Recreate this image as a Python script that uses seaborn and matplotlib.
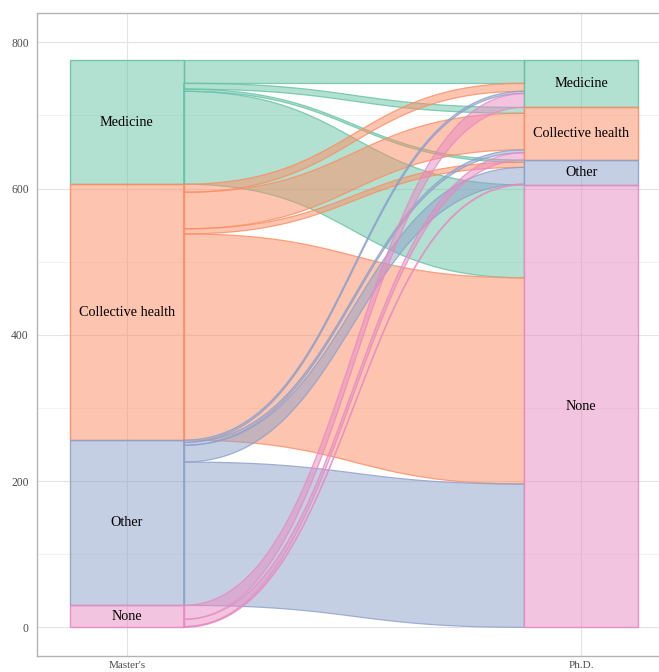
import numpy as np
import pandas as pd
import matplotlib
matplotlib.use("Agg")
import matplotlib.pyplot as plt
from matplotlib.ticker import MultipleLocator
import seaborn as sns

# ---------------- data ----------------
strata = ["Medicine", "Collective health", "Other", "None"]   # top -> bottom
axis_labels = ["Master's", "Ph.D."]
flow_from = ["Medicine"] * 4 + ["Collective health"] * 4 + ["Other"] * 4 + ["None"] * 4
flow_to = ["Medicine", "Collective health", "Other", "None"] * 4
flow_n = [32, 8, 3, 127,
          11, 50, 7, 282,
          3, 4, 23, 196,
          19, 10, 1, 0]
y_ticks = [0, 200, 400, 600, 800]

flows = pd.DataFrame({"src": flow_from, "dst": flow_to, "n": flow_n})

# ---------------- style ----------------
sns.set_theme(style="whitegrid")
plt.rcParams["font.family"] = ["Liberation Serif", "DejaVu Serif"]
pal = dict(zip(strata, sns.color_palette("Set2", 4)))

W, H, DPI = 659, 672, 100
fig = plt.figure(figsize=(W / DPI, H / DPI), dpi=DPI)
ax = fig.add_axes([37 / W, 16 / H, 634 / W, (656 - 13.3) / H])
ax.set_xlim(0.802, 2.198)
ax.set_ylim(-39.2, 839.7)

width = 0.25
total = flows["n"].sum()

def stratum_tops(col):
    tops = {}
    cur = total
    for s in strata:
        v = flows.loc[flows[col] == s, "n"].sum()
        tops[s] = (cur, v)
        cur -= v
    return tops

left_tops = stratum_tops("src")
right_tops = stratum_tops("dst")

left_pos, right_pos = {}, {}
for s in strata:
    cur = left_tops[s][0]
    for t in strata:
        v = flows.loc[(flows.src == s) & (flows.dst == t), "n"].sum()
        left_pos[(s, t)] = (cur, cur - v)
        cur -= v
for t in strata:
    cur = right_tops[t][0]
    for s in strata:
        v = flows.loc[(flows.src == s) & (flows.dst == t), "n"].sum()
        right_pos[(s, t)] = (cur, cur - v)
        cur -= v

x0, x1 = 1 + width / 2, 2 - width / 2
k = 0.5
tt = np.linspace(0, 1, 120)
bx = ((1 - tt) ** 3 * x0 + 3 * (1 - tt) ** 2 * tt * (x0 + k * (x1 - x0))
      + 3 * (1 - tt) * tt ** 2 * (x1 - k * (x1 - x0)) + tt ** 3 * x1)
by = 3 * (1 - tt) * tt ** 2 + tt ** 3

for s in strata:
    for t in strata:
        v = flows.loc[(flows.src == s) & (flows.dst == t), "n"].sum()
        if v <= 0:
            continue
        (lt, lb), (rt, rb) = left_pos[(s, t)], right_pos[(s, t)]
        top = lt + (rt - lt) * by
        bot = lb + (rb - lb) * by
        px = np.concatenate([bx, bx[::-1]])
        py = np.concatenate([top, bot[::-1]])
        c = pal[s]
        ax.fill(px, py, facecolor=(*c, 0.5), edgecolor=(*c, 0.8), lw=0.9, zorder=2)

for xi, tops in ((1, left_tops), (2, right_tops)):
    for s in strata:
        top, v = tops[s]
        if v <= 0:
            continue
        c = pal[s]
        ax.bar(xi, v, bottom=top - v, width=width, facecolor=(*c, 0.5),
               edgecolor=(*c, 0.9), lw=1.0, zorder=3)
        ax.text(xi, top - v / 2, s, ha="center", va="center", fontsize=10.3,
                color="black", zorder=4)

ax.set_xticks([1, 2])
ax.set_xticklabels(axis_labels)
ax.set_yticks(y_ticks)
ax.yaxis.set_minor_locator(MultipleLocator(100))
ax.grid(True, which="major", color="#E3E3E3", lw=0.8)
ax.grid(True, which="minor", axis="y", color="#EFEFEF", lw=0.5)
ax.set_axisbelow(True)
for sp in ax.spines.values():
    sp.set_color("#B3B3B3")
    sp.set_linewidth(1.0)
ax.tick_params(axis="both", which="major", length=3, width=0.8, color="#B3B3B3",
               labelsize=8.4, labelcolor="#4D4D4D", pad=3)
ax.tick_params(axis="x", which="major", pad=0.5, labelsize=8.0)
ax.tick_params(axis="both", which="minor", length=0)
ax.set_xlabel("")
ax.set_ylabel("")

fig.savefig("out.png", dpi=DPI)
